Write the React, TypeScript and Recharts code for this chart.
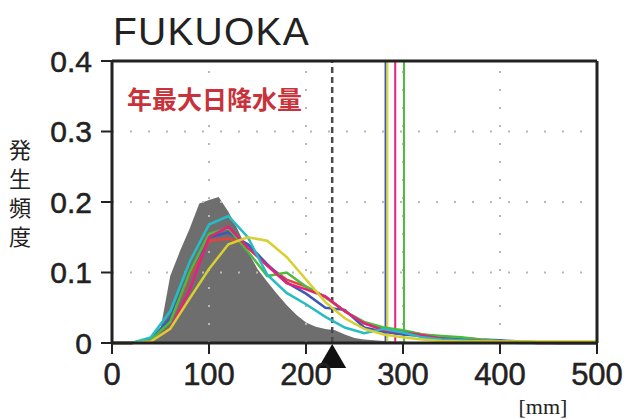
import React from "react";
import {
  ComposedChart,
  Area,
  Line,
  XAxis,
  YAxis,
  ReferenceLine,
  ReferenceDot,
} from "recharts";

// observed histogram (10 mm bins, 0..500)
const observed = [
  0, 0, 0, 0, 0.004, 0.02, 0.095, 0.13, 0.162, 0.198, 0.203, 0.207, 0.186,
  0.16, 0.13, 0.105, 0.087, 0.07, 0.054, 0.04, 0.029, 0.023, 0.02, 0.018,
  0.012, 0.007, 0.005, 0.004, 0.003, 0.002, 0.002, 0.001, 0, 0, 0, 0, 0, 0, 0,
  0, 0, 0, 0, 0, 0, 0, 0, 0, 0, 0, 0,
];

// model curves (20 mm bins, 0..500)
const red = [0, 0, 0.004, 0.03, 0.095, 0.145, 0.148, 0.14, 0.11, 0.09, 0.08, 0.065, 0.045, 0.028, 0.02, 0.017, 0.012, 0.008, 0.005, 0.003, 0.002, 0.001, 0, 0, 0, 0];
const blue = [0, 0, 0.005, 0.035, 0.1, 0.15, 0.157, 0.14, 0.112, 0.086, 0.07, 0.05, 0.047, 0.022, 0.016, 0.012, 0.01, 0.009, 0.007, 0.005, 0.004, 0.002, 0.001, 0, 0, 0];
const green = [0, 0, 0.004, 0.03, 0.1, 0.155, 0.163, 0.13, 0.095, 0.1, 0.08, 0.065, 0.045, 0.03, 0.022, 0.018, 0.012, 0.01, 0.008, 0.005, 0.003, 0.002, 0.001, 0, 0, 0];
const pink = [0, 0, 0.002, 0.02, 0.075, 0.15, 0.165, 0.135, 0.11, 0.085, 0.076, 0.066, 0.045, 0.028, 0.018, 0.015, 0.011, 0.006, 0.004, 0.003, 0.002, 0.001, 0, 0, 0, 0];
const cyan = [0, 0, 0.008, 0.045, 0.115, 0.168, 0.18, 0.15, 0.097, 0.071, 0.055, 0.037, 0.022, 0.014, 0.02, 0.015, 0.008, 0.005, 0.004, 0.002, 0.001, 0, 0, 0, 0, 0];
const yellow = [0, 0, 0.002, 0.02, 0.063, 0.105, 0.14, 0.15, 0.145, 0.122, 0.09, 0.058, 0.035, 0.02, 0.012, 0.008, 0.005, 0.003, 0.002, 0.002, 0.002, 0.002, 0.002, 0.002, 0.002, 0.002];

const xTicks = [0, 100, 200, 300, 400, 500];
const yTicks = [0, 0.1, 0.2, 0.3, 0.4];
const gridX = [100, 200, 300, 400];
const gridY = [0.1, 0.2, 0.3];

// vertical marker lines
const vLines = [
  { x: 282, color: "#3d59b8" },
  { x: 284, color: "#e2d82a" },
  { x: 292, color: "#e8207a" },
  { x: 301, color: "#4cbb3c" },
];
const obsMark = 227;

const series = [
  { key: "red", color: "#e8413c", values: red },
  { key: "blue", color: "#3d59b8", values: blue },
  { key: "green", color: "#4cbb3c", values: green },
  { key: "pink", color: "#e8207a", values: pink },
  { key: "cyan", color: "#25bcc4", values: cyan },
  { key: "yellow", color: "#d8d030", values: yellow },
];

const data = observed.map((v, i) => {
  const row: Record<string, number | null> = { x: i * 10, obs: v };
  series.forEach((s) => {
    row[s.key] = i % 2 === 0 ? s.values[i / 2] : null;
  });
  return row;
});

const Triangle = (props: any) => {
  const { cx, cy } = props;
  if (cx == null || cy == null) return null;
  return (
    <polygon
      points={`${cx},${cy + 1} ${cx - 14},${cy + 25} ${cx + 14},${cy + 25}`}
      fill="#111"
    />
  );
};

const numFont = "'Liberation Sans', Arial, sans-serif";
const tickStyle = { fill: "#222", stroke: "#222", strokeWidth: 0.5, fontFamily: numFont };

export default function App() {
  return (
    <div style={{ position: "relative", width: 629, height: 419, background: "#fff" }}>
      <style>{"body{margin:0}"}</style>
      <ComposedChart
        width={629}
        height={419}
        data={data}
        margin={{ top: 61, right: 32, bottom: 36, left: 0 }}
      >
        <XAxis
          dataKey="x"
          type="number"
          domain={[0, 500]}
          ticks={xTicks}
          height={40}
          tickSize={11}
          tickMargin={9}
          axisLine={{ stroke: "#222", strokeWidth: 3 }}
          tickLine={{ stroke: "#222", strokeWidth: 2 }}
          tick={{ ...tickStyle, fontSize: 31 }}
          interval={0}
        />
        <YAxis
          type="number"
          domain={[0, 0.4]}
          ticks={yTicks}
          width={112}
          tickSize={11}
          tickMargin={9}
          axisLine={{ stroke: "#222", strokeWidth: 3 }}
          tickLine={{ stroke: "#222", strokeWidth: 2 }}
          tick={{ ...tickStyle, fontSize: 30 }}
          interval={0}
        />
        <Area
          dataKey="obs"
          type="linear"
          stroke="none"
          fill="#6e6e6e"
          fillOpacity={1}
          isAnimationActive={false}
        />
        {gridX.map((g) => (
          <ReferenceLine key={`gx${g}`} x={g} stroke="#b8b8b8" strokeWidth={2} strokeDasharray="2 16" />
        ))}
        {gridY.map((g) => (
          <ReferenceLine key={`gy${g}`} y={g} stroke="#b8b8b8" strokeWidth={2} strokeDasharray="2 16" />
        ))}
        <ReferenceLine x={obsMark} stroke="#4a4a4a" strokeWidth={2.5} strokeDasharray="6 4" />
        {vLines.map((v) => (
          <ReferenceLine key={`v${v.x}`} x={v.x} stroke={v.color} strokeWidth={2} />
        ))}
        {series.map((s) => (
          <Line
            key={s.key}
            dataKey={s.key}
            type="linear"
            stroke={s.color}
            strokeWidth={2.5}
            dot={false}
            connectNulls
            isAnimationActive={false}
          />
        ))}
        <ReferenceLine y={0.4} stroke="#222" strokeWidth={3} />
        <ReferenceLine x={500} stroke="#222" strokeWidth={3} />
        <ReferenceDot x={obsMark} y={0} shape={Triangle} />
      </ComposedChart>
      <div
        style={{
          position: "absolute",
          left: 9,
          top: 139,
          fontSize: 22,
          lineHeight: 1,
          letterSpacing: 7,
          writingMode: "vertical-rl",
          color: "#222",
          fontFamily: "'Noto Sans CJK JP', sans-serif",
        }}
      >
        発生頻度
      </div>
      <svg
        width={629}
        height={419}
        style={{ position: "absolute", left: 0, top: 0, pointerEvents: "none" }}
      >
        <text x={113} y={45} fontSize={39} fill="#222" fontFamily={numFont} letterSpacing={1.2}>
          FUKUOKA
        </text>
        <text
          x={127}
          y={109}
          fontSize={25}
          fontWeight="bold"
          fill="#c8323a"
          fontFamily="'Noto Sans CJK JP', sans-serif"
        >
          年最大日降水量
        </text>
        <text
          x={543}
          y={414}
          fontSize={22}
          textAnchor="middle"
          fill="#222"
          fontFamily="'Liberation Serif', serif"
        >
          [mm]
        </text>
      </svg>
    </div>
  );
}
